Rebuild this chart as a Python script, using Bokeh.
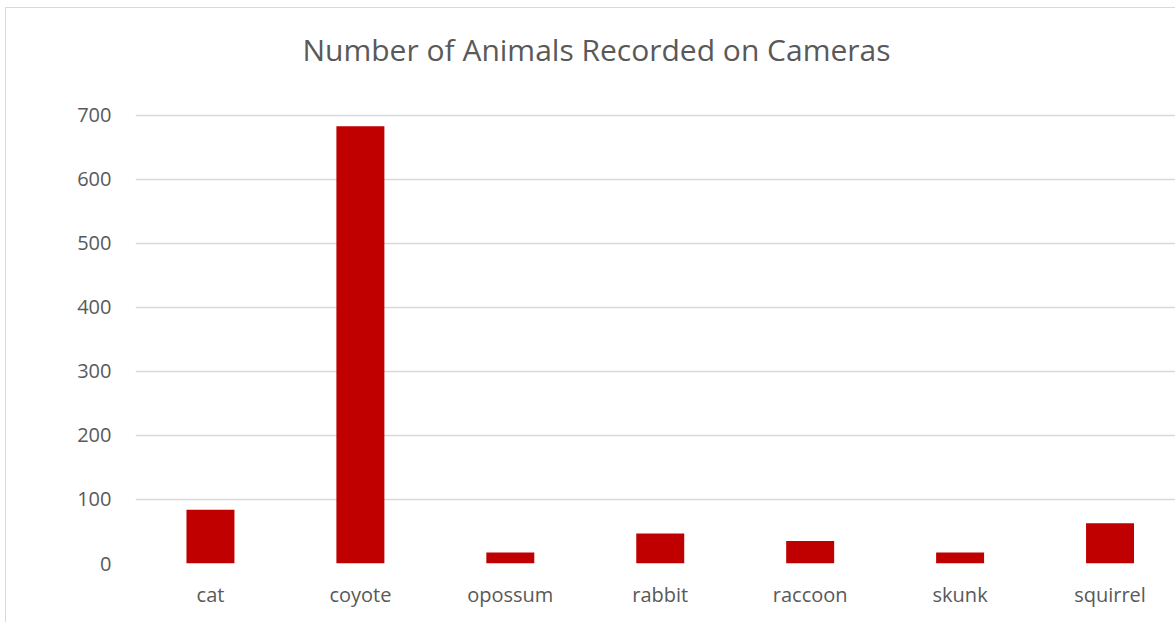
from bokeh.plotting import figure
from bokeh.models import Range1d, FixedTicker, Label
from bokeh.embed import file_html
from bokeh.resources import INLINE

categories = ["cat", "coyote", "opossum", "rabbit", "raccoon", "skunk", "squirrel"]
counts = [84, 683, 17, 47, 35, 17, 63]
y_ticks = [0, 100, 200, 300, 400, 500, 600, 700]
title_text = "Number of Animals Recorded on Cameras"

xs = list(range(len(categories)))

# frame spans full chart height; headroom above 700 holds the title
p = figure(width=1170, height=615, output_backend="svg", toolbar_location=None,
           x_range=Range1d(-0.5, 6.5 - 8.5 / 150), y_range=Range1d(0, 867),
           min_border_left=129, min_border_right=0, min_border_top=0, min_border_bottom=60)
p.styles = {"margin-left": "5px", "margin-top": "7px",
            "border-left": "1px solid #D9D9D9", "border-top": "1px solid #D9D9D9"}
p.outline_line_color = None
p.background_fill_color = "white"
p.border_fill_color = "white"

p.vbar(x=xs, top=counts, width=0.32, fill_color="#C00000", line_color="#C00000", line_width=0)

title = Label(x=461, y=514, x_units="screen", y_units="screen", text=title_text,
              text_font="Open Sans", text_font_size="30px", text_color="#595959",
              text_align="center", text_baseline="alphabetic")
p.add_layout(title)

p.xgrid.grid_line_color = None
p.ygrid.grid_line_color = "#D9D9D9"
p.ygrid.grid_line_width = 1.5
p.ygrid.ticker = FixedTicker(ticks=y_ticks)

p.yaxis.ticker = FixedTicker(ticks=y_ticks)
p.yaxis.axis_line_color = None
p.yaxis.major_tick_line_color = None
p.yaxis.minor_tick_line_color = None
p.yaxis.major_label_standoff = 18
p.yaxis.major_label_text_font = "Open Sans"
p.yaxis.major_label_text_font_size = "20px"
p.yaxis.major_label_text_color = "#595959"

p.xaxis.ticker = FixedTicker(ticks=xs)
p.xaxis.major_label_overrides = {i: c for i, c in zip(xs, categories)}
p.xaxis.axis_line_color = None
p.xaxis.major_tick_line_color = None
p.xaxis.minor_tick_line_color = None
p.xaxis.major_label_standoff = 11
p.xaxis.major_label_text_font = "Open Sans"
p.xaxis.major_label_text_font_size = "20px"
p.xaxis.major_label_text_color = "#595959"

open("out.html", "w").write(file_html(p, INLINE))
